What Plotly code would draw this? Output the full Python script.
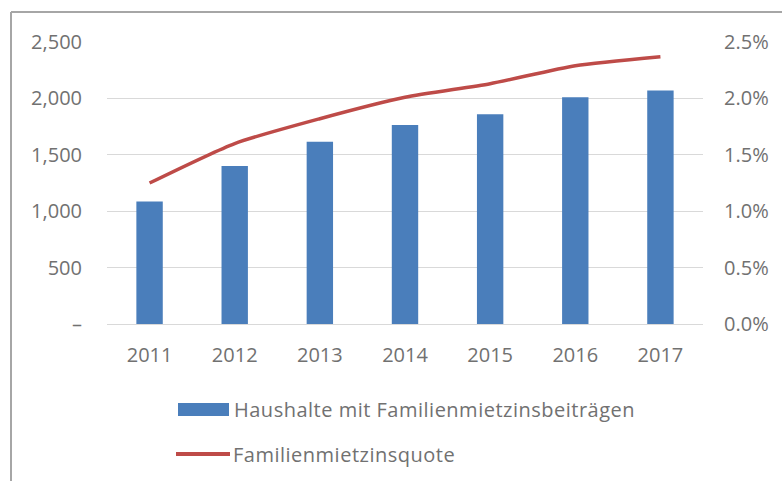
import plotly.graph_objects as go

# Data
years = ["2011", "2012", "2013", "2014", "2015", "2016", "2017"]
households = [1085, 1400, 1615, 1765, 1860, 2010, 2070]
rate = [0.0125, 0.0160, 0.0182, 0.0201, 0.0213, 0.0229, 0.0237]

bar_name = "Haushalte mit Familienmietzinsbeiträgen"
line_name = "Familienmietzinsquote"

left_ticks = [0, 500, 1000, 1500, 2000, 2500]
left_ticktext = ["–", "500", "1,000", "1,500", "2,000", "2,500"]
right_ticks = [0, 0.005, 0.010, 0.015, 0.020, 0.025]

BLUE = "#4A7EBB"
RED = "#BE4B48"
TEXT = "#717171"
GRID = "#D9D9D9"
FONT = "'Open Sans', sans-serif"
FS = 20

W, H = 782, 481
ML, MR, MT, MB = 107, 79, 42, 157
PW, PH = W - ML - MR, H - MT - MB


def px_x(px):
    return (px - ML) / PW


def px_y(py):
    return (H - MB - py) / PH


def spaced(label):
    return '<span style="letter-spacing:0.5px">' + label + '</span>'


fig = go.Figure()
fig.add_trace(go.Bar(
    x=years, y=households, name=bar_name,
    marker=dict(color=BLUE, line=dict(width=0)),
    yaxis="y", showlegend=False,
))
fig.add_trace(go.Scatter(
    x=years, y=rate, name=line_name, mode="lines",
    line=dict(color=RED, width=3.5, shape="spline", smoothing=0.6),
    yaxis="y2", showlegend=False,
))

shapes = [
    # outer frame (top and left edges)
    dict(type="line", xref="paper", yref="paper",
         x0=px_x(11), x1=px_x(W + 2), y0=px_y(12), y1=px_y(12),
         line=dict(color="#A6A6A6", width=2)),
    dict(type="line", xref="paper", yref="paper",
         x0=px_x(11), x1=px_x(11), y0=px_y(12), y1=px_y(H + 2),
         line=dict(color="#A6A6A6", width=2)),
    # legend symbols
    dict(type="rect", xref="paper", yref="paper",
         x0=px_x(178), x1=px_x(229), y0=px_y(416), y1=px_y(403),
         fillcolor=BLUE, line=dict(width=0)),
    dict(type="line", xref="paper", yref="paper",
         x0=px_x(176), x1=px_x(230), y0=px_y(454), y1=px_y(454),
         line=dict(color=RED, width=4)),
]

annotations = [
    dict(xref="paper", yref="paper", x=px_x(232), y=px_y(409),
         text=spaced(bar_name), showarrow=False, xanchor="left",
         yanchor="middle", font=dict(family=FONT, size=FS, color=TEXT)),
    dict(xref="paper", yref="paper", x=px_x(231), y=px_y(454),
         text=spaced(line_name), showarrow=False, xanchor="left",
         yanchor="middle", font=dict(family=FONT, size=FS, color=TEXT)),
]

fig.update_layout(
    width=W, height=H,
    margin=dict(l=ML, r=MR, t=MT, b=MB, pad=0),
    paper_bgcolor="white", plot_bgcolor="white",
    bargap=0.69,
    showlegend=False,
    font=dict(family=FONT, size=FS, color=TEXT),
    xaxis=dict(
        type="category", showgrid=False, zeroline=False, showline=False,
        ticks="outside", ticklen=13, tickcolor="rgba(0,0,0,0)",
        tickfont=dict(family=FONT, size=FS, color=TEXT),
    ),
    yaxis=dict(
        range=[0, 2500], tickvals=left_ticks, ticktext=left_ticktext,
        showgrid=True, gridcolor=GRID, gridwidth=1,
        zeroline=True, zerolinecolor=GRID, zerolinewidth=1, showline=False,
        ticks="outside", ticklen=20, tickcolor="rgba(0,0,0,0)",
        tickfont=dict(family=FONT, size=FS, color=TEXT),
    ),
    yaxis2=dict(
        range=[0, 0.025], tickvals=right_ticks, tickformat=".1%",
        overlaying="y", side="right", showgrid=False, zeroline=False,
        showline=False,
        ticks="outside", ticklen=16, tickcolor="rgba(0,0,0,0)",
        tickfont=dict(family=FONT, size=FS, color=TEXT),
    ),
    shapes=shapes,
    annotations=annotations,
)

fig.write_html("out.html")
